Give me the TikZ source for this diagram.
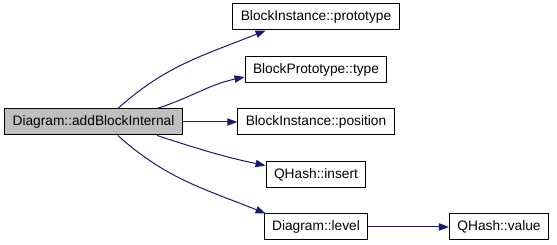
\documentclass[tikz,border=0pt]{standalone}
\usepackage{fontspec}
\setmainfont{Liberation Sans}
\usetikzlibrary{arrows.meta}
\definecolor{edgeblue}{HTML}{191970}

\begin{document}
\begin{tikzpicture}[x=.75pt,y=.75pt,line width=.75pt,
    fn/.style={draw,fill=white,inner xsep=6pt,inner ysep=0pt,minimum height=19.5pt,
      font=\fontsize{10.3}{12}\selectfont},
    call/.style={edgeblue,-{Triangle[length=7.5pt,width=5.5pt]}}]
  \useasboundingbox (0,0) rectangle (557,245);
  % caller and the functions it calls
  \node[fn,fill=black!25] (diag) at (93.5,123) {Diagram::addBlockInternal};
  \foreach \name/\txt/\y in {proto/BlockInstance::prototype/228,
      ptype/BlockPrototype::type/175.5,pos/BlockInstance::position/123,
      insert/QHash::insert/70.5,level/Diagram::level/18}
    {\node[fn] (\name) at (316,\y) {\txt};}
  \node[fn] (value) at (499,18) {QHash::value};
  % call edges
  \draw[call] (diag.29) to[out=42,in=202] (proto.195);
  \draw[call] (diag.12) to[out=18,in=192] (ptype.186);
  \draw[call] (diag) -- (pos);
  \draw[call] (diag.-12) to[out=-18,in=168] (insert.170);
  \draw[call] (diag.-29) to[out=-42,in=158] (level.165);
  \draw[call] (level) -- (value);
\end{tikzpicture}
\end{document}
